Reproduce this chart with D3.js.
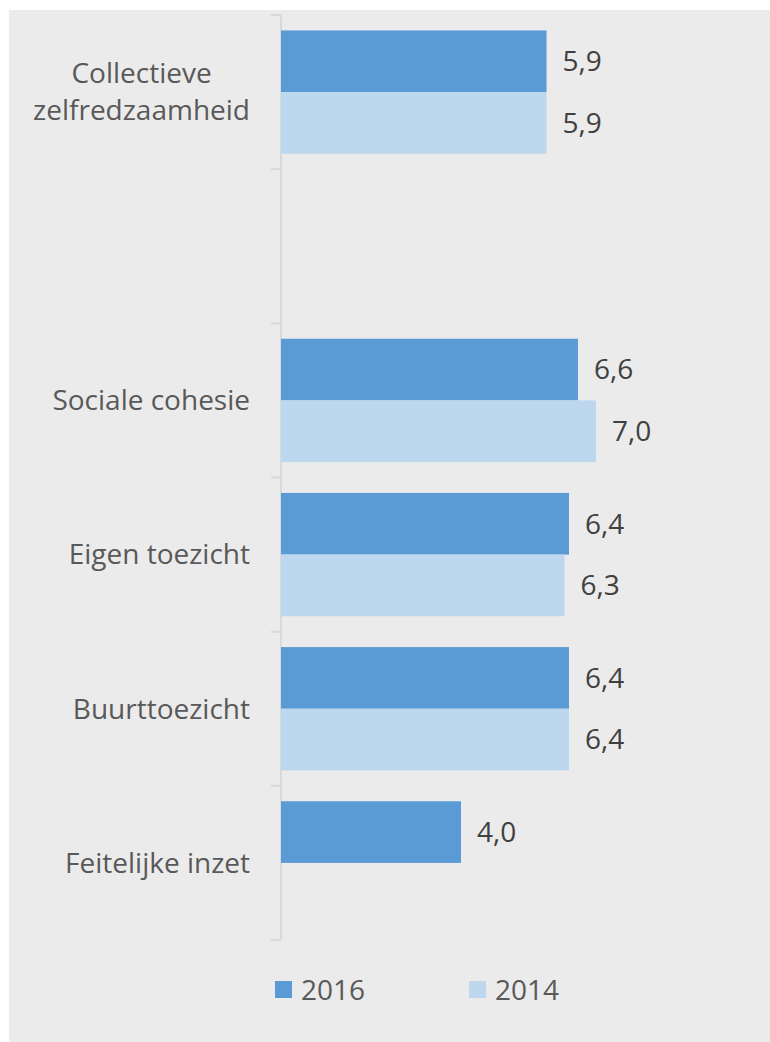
<!DOCTYPE html>
<html>
<head>
<meta charset="utf-8">
<script src="https://cdn.jsdelivr.net/npm/d3@7"></script>
<style>
  body { margin: 0; background: #fff; }
  svg { display: block; }
  text { font-family: "Open Sans", "Noto Sans", sans-serif; }
</style>
</head>
<body>
<svg id="chart"></svg>
<script>
// categories, top to bottom (the blank one is an empty slot in the original)
const categories = ["Collectieve zelfredzaamheid", "", "Sociale cohesie", "Eigen toezicht", "Buurttoezicht", "Feitelijke inzet"];
const series = ["2016", "2014"];
const values2016 = [5.9, null, 6.6, 6.4, 6.4, 4.0];
const values2014 = [5.9, null, 7.0, 6.3, 6.4, null];
const colors = ["#5b9bd5", "#bdd7ee"];

const width = 770, height = 1042;
const fontSize = 28;
const svg = d3.select("#chart").attr("width", width).attr("height", height);

// grey panel
svg.append("rect")
  .attr("x", 9).attr("y", 10)
  .attr("width", width - 9).attr("height", height - 10)
  .attr("fill", "#ebebeb");

const x0 = 281;
const x = d3.scaleLinear().domain([0, 1]).range([x0, x0 + 45]);

const slot = (d, i) => "c" + i;
const y = d3.scaleBand()
  .domain(categories.map(slot))
  .range([15, 940])
  .paddingInner(0.2)
  .paddingOuter(0.1);
const ySub = d3.scaleBand().domain(series).range([0, y.bandwidth()]);

// axis line and ticks between categories
const step = y.step();
const axis = svg.append("g").attr("stroke", "#d9d9d9").attr("stroke-width", 2);
axis.append("line").attr("x1", x0).attr("x2", x0).attr("y1", 15).attr("y2", 940);
d3.range(categories.length + 1).forEach(i => {
  const yy = 15 + i * step;
  axis.append("line").attr("x1", x0 - 10).attr("x2", x0).attr("y1", yy).attr("y2", yy);
});

const rows = [];
categories.forEach((c, i) => {
  [values2016[i], values2014[i]].forEach((v, j) => {
    if (v != null) rows.push({ cat: slot(c, i), s: series[j], v: v, color: colors[j] });
  });
});

svg.append("g").selectAll("rect")
  .data(rows).enter().append("rect")
  .attr("x", x(0))
  .attr("y", d => y(d.cat) + ySub(d.s))
  .attr("width", d => x(d.v) - x(0))
  .attr("height", ySub.bandwidth())
  .attr("fill", d => d.color);

svg.append("g").selectAll("text")
  .data(rows).enter().append("text")
  .attr("x", d => x(d.v) + 16)
  .attr("y", d => y(d.cat) + ySub(d.s) + ySub.bandwidth() / 2)
  .attr("dy", "0.35em")
  .attr("font-size", fontSize)
  .attr("fill", "#404040")
  .text(d => d.v.toFixed(1).replace(".", ","));

// category labels; wrapped labels are centred on their widest line
const labelLines = {
  "Collectieve zelfredzaamheid": ["Collectieve", "zelfredzaamheid"]
};
const labelRight = 250;
categories.forEach((c, i) => {
  if (!c) return;
  const lines = labelLines[c] || [c];
  const cy = y(slot(c, i)) + y.bandwidth() / 2;
  const t = svg.append("text")
    .attr("font-size", fontSize)
    .attr("fill", "#595959");
  const spans = lines.map((l, k) => t.append("tspan")
    .attr("y", cy + (k - (lines.length - 1) / 2) * 37)
    .attr("dy", "0.35em")
    .text(l));
  if (lines.length === 1) {
    t.attr("text-anchor", "end");
    spans[0].attr("x", labelRight);
  } else {
    const maxW = d3.max(spans, s => s.node().getComputedTextLength());
    t.attr("text-anchor", "middle");
    spans.forEach(s => s.attr("x", labelRight - maxW / 2));
  }
});

// legend
const legendX = [275, 469];
series.forEach((s, i) => {
  svg.append("rect")
    .attr("x", legendX[i]).attr("y", 981)
    .attr("width", 17).attr("height", 17)
    .attr("fill", colors[i]);
  svg.append("text")
    .attr("x", legendX[i] + 26).attr("y", 990)
    .attr("dy", "0.35em")
    .attr("font-size", fontSize)
    .attr("fill", "#595959")
    .text(s);
});
</script>
</body>
</html>
